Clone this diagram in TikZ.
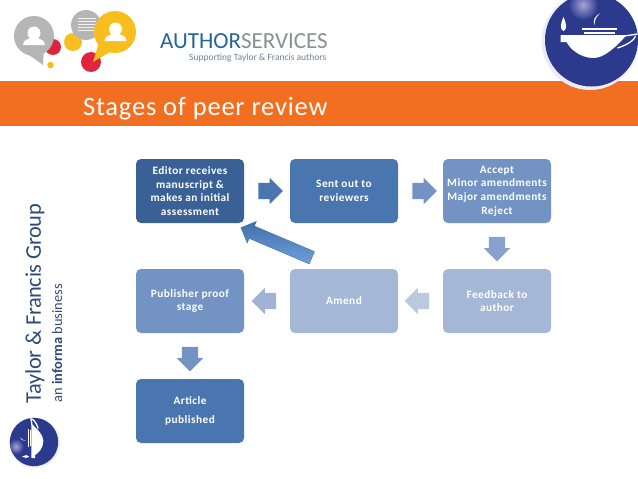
\documentclass[tikz,border=0pt]{standalone}
\usepackage{fontspec}
\setmainfont{Carlito}
\usetikzlibrary{
  arrows.meta,
  positioning,
  calc,
  shapes.arrows
}
\definecolor{bandorange}{HTML}{F26F21}
\definecolor{lampblue}{HTML}{2B3A8C}
\definecolor{lamphalo}{HTML}{ECECF6}
\definecolor{lampglow}{HTML}{A9A3D6}
\definecolor{bubblegrey}{HTML}{B5B5B5}
\definecolor{bubblered}{HTML}{E0233F}
\definecolor{bubbleyellow}{HTML}{F8BE1E}
\definecolor{brandblue}{HTML}{26649A}
\definecolor{brandgrey}{HTML}{8A8F96}
\definecolor{groupblue}{HTML}{2F4A78}
\definecolor{stagedark}{HTML}{3A6195}
\definecolor{stagemid}{HTML}{4A76B0}
\definecolor{stagesoft}{HTML}{7293C3}
\definecolor{stagepale}{HTML}{A5B7D6}
\definecolor{backlight}{HTML}{6FA0DC}
\definecolor{backdark}{HTML}{3F70AC}
\tikzset{
  stagebox/.style={rounded corners=5pt, minimum width=108pt, minimum height=64pt,
    align=center, text=white, inner sep=2pt,
    font=\fontsize{11.3}{13.6}\selectfont\bfseries\addfontfeature{LetterSpace=4}},
  blockarrow/.style={single arrow, single arrow head extend=5pt, minimum width=26pt,
    minimum height=23pt, inner sep=8pt},
  lamp/.pic={
    \fill[lamphalo] (-1.5,1.5) circle (48.5);
    \fill[lampblue] (0,0) circle (46.5);
    \begin{scope}
      \clip (0,0) circle (46.5);
      \shade[inner color=lampglow, outer color=lampblue] (-8.5,-35) circle (15);
      % Bacia, alca e bico
      \fill[white] (-31,-5) -- (35,-5) .. controls (24,8) and (12,18) .. (2,18)
        .. controls (-12,18) and (-22,8) .. (-25,2) -- (-31,2) -- cycle;
      \draw[white, line width=1.3pt] (33,-4) -- (46,-6) (44,-4) .. controls (42,2) and (32,6) .. (26,8);
      % Tampa
      \fill[white] (-10,-12) rectangle (25,-10);
      \fill[white] (-8,-8.5) rectangle (23,-6);
      % Chamas
      \fill[white] (-28,-23) .. controls (-25,-16) and (-24,-11) .. (-28,-9)
        .. controls (-32,-11) and (-31,-16) .. (-28,-23) -- cycle;
      \fill[white] (9,-27) .. controls (3,-24) and (1,-19) .. (3,-15)
        .. controls (3,-20) and (5,-24) .. (9,-27) -- cycle;
    \end{scope}
  }
}
\begin{document}
\begin{tikzpicture}[x=1pt, y=-1pt, >=stealth]
  \useasboundingbox (0,0) rectangle (638,479);
  % Faixa laranja
  \fill[bandorange] (0,81) rectangle (638,126);
  \node[anchor=base west, text=white, inner sep=0pt, font=\fontsize{26.5}{30}\selectfont\addfontfeature{LetterSpace=3}] (title) at (83,115) {Stages of peer review};

  % Baloes do canto superior esquerdo
  \fill[bubblered] (53,47) circle (8);
  \fill[bubblegrey] (34,36) circle (20);
  \fill[bubblegrey] (25,52) -- (43,65) -- (44,48) -- cycle;
  \fill[bubbleyellow] (50.5,65) circle (3.3);
  \fill[bubbleyellow] (73,42) circle (9);
  \fill[bubblegrey] (86,25) circle (15);
  \foreach \y in {18,21,24,27,30} {
    \draw[white!80!bubblegrey, line width=1pt] (78,\y) -- (96,\y);
  }
  \fill[bubblered] (91,62) circle (10);
  \fill[bubbleyellow] (115,32) circle (21);
  \fill[bubbleyellow] (99,42) -- (93,62) -- (110,52) -- cycle;
  % Pessoas
  \foreach \cx/\cy in {34/34, 115.5/30} {
    \fill[white] (\cx,\cy-1) circle (6.5);
    \fill[white] (\cx-11,\cy+11) .. controls (\cx-11,\cy+5) and (\cx-5,\cy+6) .. (\cx-3,\cy+3)
      -- (\cx+3,\cy+3) .. controls (\cx+5,\cy+6) and (\cx+11,\cy+5) .. (\cx+11,\cy+11) -- cycle;
  }

  % Marca Author Services
  \node[anchor=base west, inner sep=0pt, font=\fontsize{23}{28}\selectfont] (brand) at (160,48) {\textcolor{brandblue}{AUTHOR}\textcolor{brandgrey}{SERVICES}};
  \node[anchor=base east, inner sep=0pt, text=brandgrey!70!brandblue, font=\fontsize{9.5}{11}\selectfont] (tagline) at (326.5,60) {Supporting Taylor \& Francis authors};

  % Logotipos
  \pic at (591.5,40) {lamp};
  \pic[rotate=90, scale=0.52] at (34,442) {lamp};

  % Texto lateral
  \node[rotate=90, anchor=base west, inner sep=0pt, text=groupblue, font=\fontsize{22.4}{26}\selectfont\addfontfeature{LetterSpace=-1.5}] (group) at (41,403.5) {Taylor \& Francis Group};
  \node[rotate=90, anchor=base west, inner sep=0pt, text=groupblue, font=\fontsize{14.4}{17}\selectfont] (informa) at (62,402.5) {an \textbf{informa} business};

  % Etapas
  \node[stagebox, fill=stagedark] (editor) at (190,191) {Editor receives\\manuscript \&\\makes an initial\\assessment};
  \node[stagebox, fill=stagemid] (reviewers) at (344,191) {Sent out to\\reviewers};
  \node[stagebox, fill=stagesoft] (decision) at (497,191) {Accept\\Minor amendments\\Major amendments\\Reject};
  \node[stagebox, fill=stagepale] (feedback) at (497,301) {Feedback to\\author};
  \node[stagebox, fill=stagepale] (amend) at (344,301) {Amend};
  \node[stagebox, fill=stagesoft] (proof) at (190,301) {Publisher proof\\stage};
  \node[stagebox, fill=stagemid, font=\fontsize{11.3}{19}\selectfont\bfseries\addfontfeature{LetterSpace=4}] (article) at (190,411) {Article\\published};

  % Setas entre as etapas
  \node[blockarrow, fill=stagemid] (toreviewers) at (266.5,191) {};
  \node[blockarrow, fill=stagesoft] (todecision) at (420.5,191) {};
  \node[blockarrow, rotate=-90, fill=stagesoft!85!white] (tofeedback) at (497,245) {};
  \node[blockarrow, rotate=180, fill=stagepale!75!white] (toamend) at (421,301) {};
  \node[blockarrow, rotate=180, fill=stagepale!90!stagesoft] (toproof) at (268,301) {};
  \node[blockarrow, rotate=-90, fill=stagesoft] (toarticle) at (190,355) {};

  % Seta de retorno
  \node[single arrow, single arrow head extend=5pt, minimum width=23pt, minimum height=77pt,
    inner sep=6.5pt, rotate=157, top color=backdark, bottom color=backlight,
    draw=backdark, line width=0.4pt] (backarrow) at (279.5,244) {};
\end{tikzpicture}
\end{document}
